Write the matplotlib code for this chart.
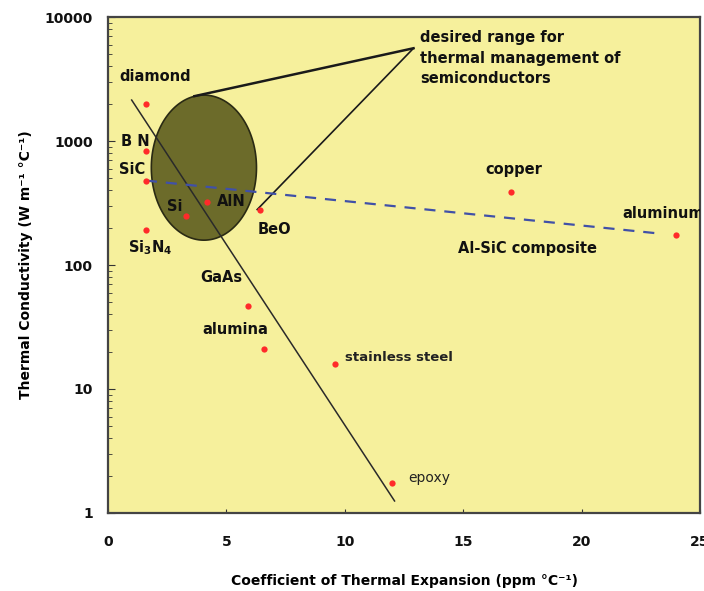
import numpy as np
import matplotlib
matplotlib.use("Agg")
import matplotlib.pyplot as plt

# material data: CTE (ppm/C) and thermal conductivity (W/m/C)
materials = ['diamond', 'BN', 'SiC', 'Si3N4', 'Si', 'AlN', 'BeO', 'GaAs',
             'alumina', 'stainless steel', 'epoxy', 'copper', 'aluminum']
cte = [1.6, 1.6, 1.6, 1.6, 3.3, 4.2, 6.4, 5.9, 6.6, 9.6, 12.0, 17.0, 24.0]
kth = [2000, 830, 480, 190, 250, 320, 280, 47, 21, 16, 1.75, 390, 175]

# solid trend line and Al-SiC composite line
trend_x = [1.0, 12.1]
trend_y = [2140, 1.25]
alsic_x = [1.6, 23.2]
alsic_y = [480, 180]

# desired range ellipse (centre, half width in ppm, half height in decades)
ell_c = (4.05, 610)
ell_w = 2.22
ell_h = 0.585
# callout: apex and the two points on the ellipse
call_apex = (12.9, 5600)
call_a = (3.65, 2300)
call_b = (6.3, 280)

xticks = [0, 5, 10, 15, 20, 25]
yticks = [1, 10, 100, 1000, 10000]

plt.rcParams['font.family'] = ['DejaVu Sans']
plt.rcParams['font.weight'] = 'bold'

fig = plt.figure(figsize=(7.04, 5.91), dpi=100)
ax = fig.add_axes([0.1534, 0.132, 0.841, 0.8392])
ax.set_facecolor('#f6f09c')
ax.set_yscale('log')
ax.set_xlim(0, 25)
ax.set_ylim(1, 10000)

t = np.linspace(0, 2 * np.pi, 200)
ex = ell_c[0] + ell_w * np.cos(t)
ey = 10 ** (np.log10(ell_c[1]) + ell_h * np.sin(t))
ax.fill(ex, ey, color='#6c6b2a', ec='#2a2a14', lw=1.2, zorder=2)

ax.plot([call_a[0], call_apex[0]], [call_a[1], call_apex[1]], color='#1a1a1a', lw=1.8, zorder=3)
ax.plot([call_b[0], call_apex[0]], [call_b[1], call_apex[1]], color='#1a1a1a', lw=1.2, zorder=3)

ax.plot(trend_x, trend_y, color='#2a2a2a', lw=1.1, zorder=3)
ax.plot(alsic_x, alsic_y, color='#4050a8', lw=1.6, dashes=(5, 4), zorder=3)

ax.plot(cte, kth, 'o', color='#ff2a2a', ms=4.5, mec='none', zorder=4)

fs = 10.5
txt = dict(fontsize=fs, fontweight='bold', color='#111111', zorder=5)
ax.text(0.5, 3300, 'diamond', va='center', ha='left', **txt)
ax.text(0.55, 1000, 'B N', va='center', ha='left', **txt)
ax.text(0.45, 585, 'SiC', va='center', ha='left', **txt)
ax.text(0.85, 137, 'Si$_3$N$_4$', va='center', ha='left', **txt)
ax.text(2.5, 295, 'Si', va='center', ha='left', **txt)
ax.text(4.6, 324, 'AlN', va='center', ha='left', **txt)
ax.text(6.33, 192, 'BeO', va='center', ha='left', **txt)
ax.text(3.9, 80, 'GaAs', va='center', ha='left', **txt)
ax.text(4.0, 30, 'alumina', va='center', ha='left', **txt)
ax.text(10.0, 17.8, 'stainless steel', va='center', ha='left',
        fontsize=9.5, fontweight='bold', color='#222222', zorder=5)
ax.text(12.67, 1.92, 'epoxy', va='center', ha='left',
        fontsize=10, fontweight='normal', color='#222222', zorder=5)
ax.text(17.15, 584, 'copper', va='center', ha='center', **txt)
ax.text(21.7, 262, 'aluminum', va='center', ha='left', clip_on=True, **txt)
ax.text(14.8, 137, 'Al-SiC composite', va='center', ha='left', **txt)
ax.text(13.18, 4670, 'desired range for\nthermal management of\nsemiconductors',
        va='center', ha='left', linespacing=1.45, **txt)

ax.set_xticks(xticks)
ax.set_xticklabels([str(v) for v in xticks])
ax.set_yticks(yticks)
ax.set_yticklabels([str(v) for v in yticks])
ax.tick_params(axis='both', which='both', direction='in', top=False, right=False,
               labelsize=10, colors='#333333', labelcolor='#111111')
ax.tick_params(axis='x', which='major', length=3, pad=16)
ax.tick_params(axis='y', which='major', length=5, pad=11)
ax.tick_params(axis='y', which='minor', length=3)
for s in ax.spines.values():
    s.set_color('#444444')
    s.set_linewidth(1.6)

ax.set_xlabel('Coefficient of Thermal Expansion (ppm °C⁻¹)', fontsize=10, fontweight='bold')
ax.set_ylabel('Thermal Conductivity (W m⁻¹ °C⁻¹)', fontsize=10, fontweight='bold')
ax.xaxis.set_label_coords(0.5, -0.123)
ax.yaxis.set_label_coords(-0.127, 0.5)

fig.savefig('out.png', dpi=100)
